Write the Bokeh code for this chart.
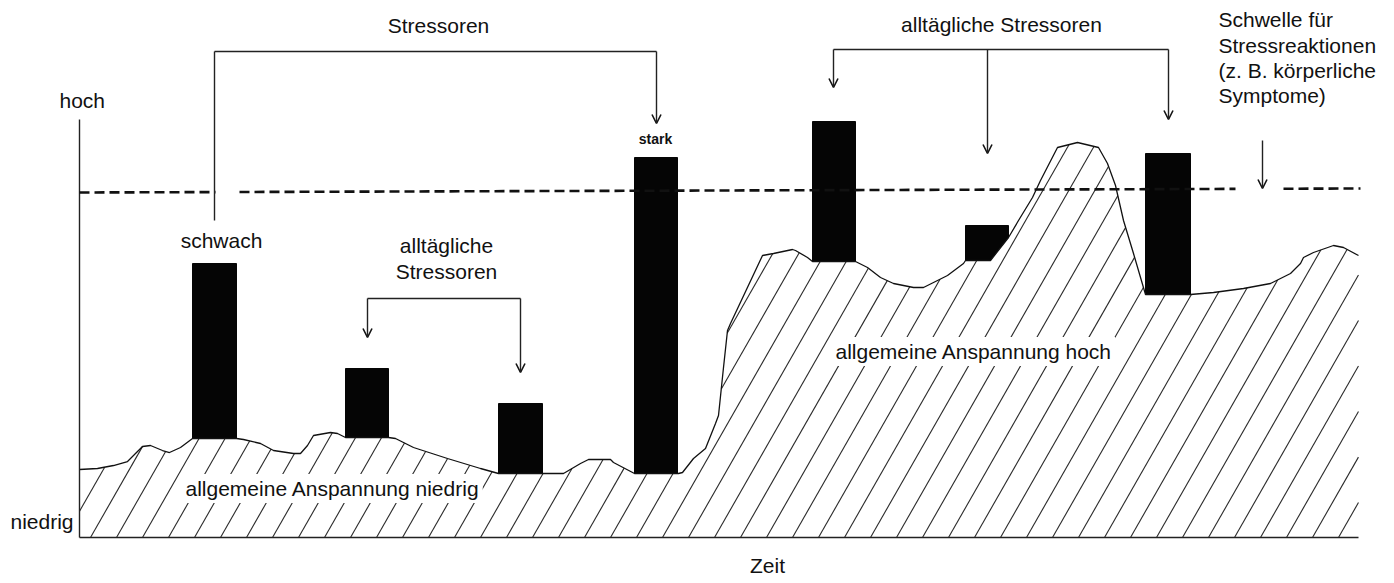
import numpy as np
from bokeh.plotting import figure
from bokeh.models import Range1d, Label, Arrow, OpenHead, ColumnDataSource
from bokeh.core.properties import value
from bokeh.embed import file_html
from bokeh.resources import INLINE

# ---------------- data (time X, level Y) ----------------
# general tension curve (top edge of hatched area)
curve_x = [0, 18, 34, 48, 63, 71, 83, 90, 101, 113, 157, 164, 181, 194, 214, 221, 228, 234,
           251, 258, 266, 309, 316, 334, 368, 401, 419, 463, 484, 501, 509, 531, 534, 555,
           599, 603, 614, 626, 636, 639, 644, 648, 651, 683, 694, 713, 716, 728, 733, 776,
           788, 801, 814, 834, 844, 854, 868, 884, 886, 911, 929, 939, 953, 961, 978, 998,
           1019, 1028, 1036, 1044, 1054, 1066, 1111, 1134, 1164, 1191, 1211, 1221, 1224,
           1234, 1254, 1264, 1279]
curve_y = [68, 69, 72, 76, 91, 92, 87, 85, 90, 99, 99, 98, 94, 87, 84, 84, 92, 102,
           105, 104, 100, 100, 99, 90, 79, 69, 64, 64, 64, 74, 78, 78, 75, 64,
           64, 65, 79, 89, 114, 122, 170, 207, 214, 282, 284, 288, 287, 280, 276, 276,
           270, 260, 254, 250, 250, 255, 262, 274, 277, 277, 300, 317, 340, 357, 390, 395,
           390, 374, 352, 317, 284, 243, 243, 245, 249, 254, 264, 274, 280,
           285, 292, 290, 282]

# stressor bars
bar_left = [113, 266, 419, 555, 733, 886, 1066]
bar_right = [157, 309, 463, 598, 776, 929, 1111]
bar_bottom = [99, 100, 64, 64, 276, 277, 243]
bar_top = [274, 169, 134, 380, 416, 312, 384]

# threshold for stress reactions
threshold_x = [0, 1281]
threshold_y = [345, 349]
threshold_gaps = [(136, 160), (1156, 1204)]

# brackets: horizontal bars and arrows
bracket_h_x0 = [135, 288, 754]
bracket_h_x1 = [577, 441, 1089]
bracket_h_y = [486, 239, 488]
plain_x = [135]
plain_y0 = [486]
plain_y1 = [317]
arrow_x = [577, 288, 441, 754, 908, 1089, 1183]
arrow_y0 = [486, 239, 239, 488, 488, 488, 397]
arrow_y1 = [414, 200, 165, 450, 384, 418, 349]

axis_top = 418
axis_right = 1279

# text
FONT = "Liberation Sans"
title_texts = ["Stressoren", "alltägliche Stressoren", "schwach", "alltägliche", "Stressoren", "Zeit"]
title_x = [359, 922, 142, 367, 367, 688]
title_y = [512, 513, 297, 292, 266, -28]
schwelle_lines = ["Schwelle für", "Stressreaktionen", "(z. B. körperliche", "Symptome)"]
schwelle_y = [518, 492, 467, 442]
schwelle_x = 1139
axis_label_texts = ["hoch", "niedrig"]
axis_label_x = [-20, -69]
axis_label_y = [437, 16]
stark_x, stark_y = 576, 399
area_texts = ["allgemeine Anspannung niedrig", "allgemeine Anspannung hoch"]
area_x = [103, 753]
area_y = [49, 186]

# ---------------- figure ----------------
p = figure(width=1394, height=583, x_range=Range1d(-79, 1315), y_range=Range1d(-46, 537),
           output_backend="svg", toolbar_location=None, min_border=0)
p.axis.visible = False
p.grid.visible = False
p.outline_line_color = None
p.background_fill_color = "white"

# bars
p.quad(left=bar_left, right=bar_right, bottom=bar_bottom, top=bar_top,
       fill_color="#050505", line_color="#050505")

# hatched tension area
px = curve_x + [curve_x[-1], curve_x[0]]
py = curve_y + [0, 0]
p.patch(px, py, fill_color="white", line_color=None)

cx = np.array(curve_x, float)
cy = np.array(curve_y, float)
slope = 1.75
spacing = 26.0
tmax = cy.max() / slope + 2
t = np.linspace(0, tmax, 3000)
hx, hy = [], []
for x0 in np.arange(11 - spacing * np.ceil(tmax / spacing), axis_right, spacing):
    X = x0 + t
    Y = slope * t
    inside = (X >= 0) & (X <= axis_right) & (Y <= np.interp(X, cx, cy))
    idx = np.flatnonzero(inside)
    if idx.size == 0:
        continue
    breaks = np.flatnonzero(np.diff(idx) > 1)
    starts = np.r_[idx[0], idx[breaks + 1]]
    ends = np.r_[idx[breaks], idx[-1]]
    for s, e in zip(starts, ends):
        if e - s < 2:
            continue
        hx.append([X[s], X[e]])
        hy.append([Y[s], Y[e]])
p.multi_line(hx, hy, line_color="#2a2a2a", line_width=1.1)

p.line(curve_x, curve_y, line_color="#111111", line_width=1.3)

# axes
p.line([0, 0], [0, axis_top], line_color="#222222", line_width=1.4)
p.line([0, axis_right], [0, 0], line_color="#222222", line_width=1.6)

# threshold dashed line with gaps
edges = [threshold_x[0]]
for g0, g1 in threshold_gaps:
    edges += [g0, g1]
edges.append(threshold_x[1])
tx, ty = [], []
for i in range(0, len(edges), 2):
    seg = [edges[i], edges[i + 1]]
    tx.append(seg)
    ty.append(list(np.interp(seg, threshold_x, threshold_y)))
p.multi_line(tx, ty, line_color="#111111", line_width=2.6, line_dash="10 5")

# brackets
p.segment(x0=bracket_h_x0, y0=bracket_h_y, x1=bracket_h_x1, y1=bracket_h_y,
          line_color="#222222", line_width=1.4)
p.segment(x0=plain_x, y0=plain_y0, x1=plain_x, y1=plain_y1,
          line_color="#222222", line_width=1.4)
asrc = ColumnDataSource(dict(x=arrow_x, y0=arrow_y0, y1=arrow_y1))
p.add_layout(Arrow(end=OpenHead(size=9, line_width=1.6, line_color="#111111"),
                   x_start="x", y_start="y0", x_end="x", y_end="y1", source=asrc,
                   line_color="#222222", line_width=1.4))

# texts
p.text(x=title_x, y=title_y, text=title_texts, text_font=value(FONT),
       text_font_size="21px", text_align="center", text_baseline="alphabetic",
       text_color="#111111")
p.text(x=[schwelle_x] * len(schwelle_lines), y=schwelle_y, text=schwelle_lines,
       text_font=value(FONT), text_font_size="21px", text_align="left",
       text_baseline="alphabetic", text_color="#111111")
p.text(x=axis_label_x, y=axis_label_y, text=axis_label_texts, text_font=value(FONT),
       text_font_size="21px", text_align="left", text_baseline="alphabetic",
       text_color="#111111")
p.text(x=[stark_x], y=[stark_y], text=["stark"], text_font=value(FONT),
       text_font_style="bold", text_font_size="14px", text_align="center",
       text_baseline="alphabetic", text_color="#111111")

for txt, lx, ly in zip(area_texts, area_x, area_y):
    p.add_layout(Label(x=lx, y=ly, text=txt, text_font=FONT, text_font_size="21px",
                       text_baseline="alphabetic", text_color="#111111",
                       background_fill_color="white", padding=3))

open("out.html", "w").write(file_html(p, INLINE))
